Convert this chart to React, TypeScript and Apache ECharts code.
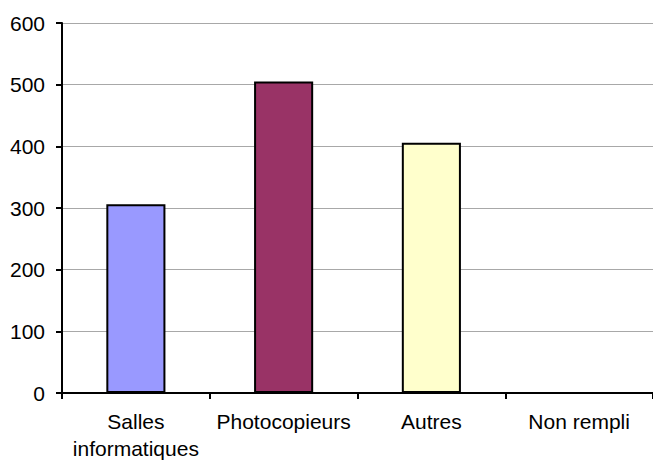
import React, { useEffect, useRef } from "react";
import * as echarts from "echarts";

const categories = ["Salles\ninformatiques", "Photocopieurs", "Autres", "Non rempli"];
const values = [306, 505, 406, 0];
const barColors = ["#9999FF", "#993366", "#FFFFCC", "#FFFFFF"];
const yTicks = { min: 0, max: 600, interval: 100 };

const FONT = "Liberation Sans, Arial, sans-serif";

export default function App() {
  const ref = useRef<HTMLDivElement>(null);
  useEffect(() => {
    if (!ref.current) return;
    const chart = echarts.init(ref.current, undefined, { renderer: "svg" });
    chart.setOption({
      animation: false,
      backgroundColor: "#ffffff",
      textStyle: { fontFamily: FONT },
      grid: { left: 62, top: 23, bottom: 67, width: 600, containLabel: false },
      xAxis: {
        type: "category",
        data: categories,
        axisLine: { lineStyle: { color: "#000", width: 2 } },
        axisTick: { show: true, alignWithLabel: false, length: 6, lineStyle: { color: "#000", width: 2 } },
        axisLabel: { color: "#000", fontSize: 21, margin: 15, lineHeight: 27, interval: 0, fontFamily: FONT },
      },
      yAxis: {
        type: "value",
        min: yTicks.min,
        max: yTicks.max,
        interval: yTicks.interval,
        axisLine: { show: true, lineStyle: { color: "#000", width: 2 } },
        axisTick: { show: true, length: 6, lineStyle: { color: "#000", width: 2 } },
        axisLabel: { color: "#000", fontSize: 21, margin: 17, fontFamily: FONT },
        splitLine: { lineStyle: { color: "#a8a8a8", width: 1 } },
      },
      series: [
        {
          type: "bar",
          data: values.map((v, i) => ({
            value: v,
            itemStyle: { color: barColors[i], borderWidth: v === 0 ? 0 : 2 },
          })),
          barWidth: "40%",
          itemStyle: { borderColor: "#000", borderWidth: 2 },
        },
      ],
    });
    return () => chart.dispose();
  }, []);
  return <div ref={ref} style={{ width: 653, height: 462, position: "absolute", left: 0, top: 0 }} />;
}
